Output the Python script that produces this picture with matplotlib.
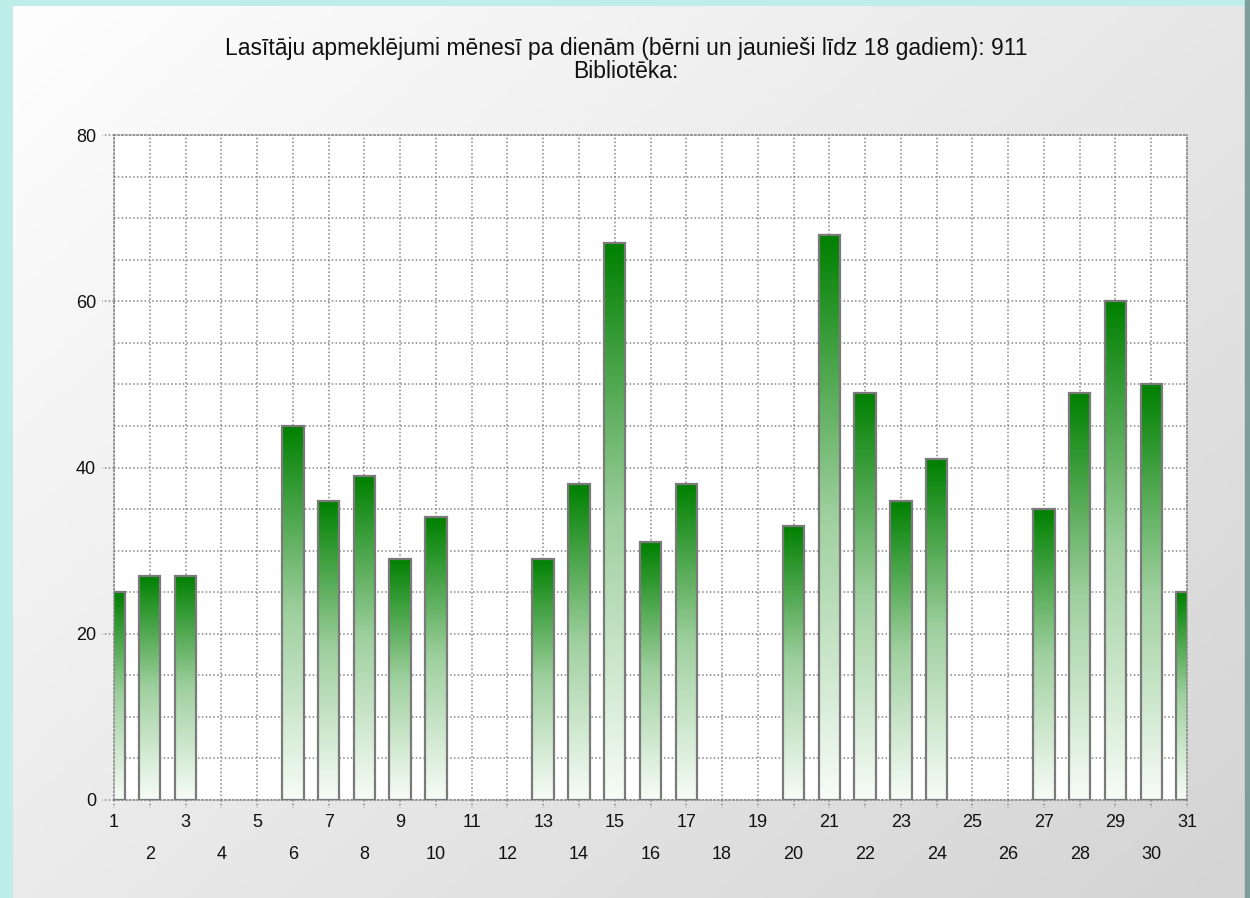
import numpy as np
import matplotlib.pyplot as plt
from matplotlib.colors import LinearSegmentedColormap
from matplotlib.ticker import MultipleLocator
import matplotlib.transforms as mtrans

# --- data: visits per day of month ---
days = list(range(1, 32))
visits = [25, 27, 27, 0, 0, 45, 36, 39, 29, 34, 0, 0, 29, 38, 67, 31, 38,
          0, 0, 33, 68, 49, 36, 41, 0, 0, 35, 49, 60, 50, 25]
title_lines = ["Lasītāju apmeklējumi mēnesī pa dienām (bērni un jaunieši līdz 18 gadiem): 911",
               "Bibliotēka:"]
y_ticks = [0, 20, 40, 60, 80]

plt.rcParams['font.family'] = ['Liberation Sans', 'DejaVu Sans']

GRID = '#858585'
DOTS = (0, (1, 1.5))

fig = plt.figure(figsize=(12.5, 8.98), dpi=100, facecolor='#bdeeea')

# panel background with diagonal grey gradient
bg = fig.add_axes([13 / 1250, 0, (1245 - 13) / 1250, 1 - 6 / 898])
bg.set_axis_off()
gx, gy = np.meshgrid(np.linspace(0, 1, 200), np.linspace(0, 1, 200))
g = (gx * 0.55 + gy * 0.45)
bg_cmap = LinearSegmentedColormap.from_list('bg', ['#fefefe', '#d4d4d4'])
bg.imshow(g, cmap=bg_cmap, aspect='auto', extent=[0, 1, 0, 1], origin='upper')
bg.set_xlim(0, 1)
bg.set_ylim(0, 1)
# darker right rim
fig.patches.append(plt.Rectangle((1245 / 1250, 0), 5 / 1250, 1, transform=fig.transFigure,
                                 color='#7e9e99', zorder=0))

ax = fig.add_axes([114 / 1250, 1 - 800 / 898, (1187 - 114) / 1250, (800 - 135) / 898])
ax.set_facecolor('white')
xmin, xmax = 1, 31

bar_cmap = LinearSegmentedColormap.from_list('bars', ['#f7fcf7', '#9fd09f', '#008000'])
grad = np.linspace(1, 0, 256).reshape(-1, 1)
width = 0.6
edges = ['#7a7a7a' if v > 0 else 'none' for v in visits]
bars = ax.bar(days, visits, width=width, facecolor='none', edgecolor=edges,
              linewidth=1.6, zorder=3)
for b, v in zip(bars, visits):
    if v <= 0:
        continue
    x0 = max(b.get_x(), xmin)
    x1 = min(b.get_x() + width, xmax)
    ax.imshow(grad, cmap=bar_cmap, aspect='auto', extent=[x0, x1, 0, v],
              zorder=2, vmin=0, vmax=1)

ax.set_xlim(xmin, xmax)
ax.set_ylim(0, 80)

# grid
ax.set_xticks(days[::2])
ax.set_xticks(days[1::2], minor=True)
ax.set_yticks(y_ticks)
ax.yaxis.set_minor_locator(MultipleLocator(5))
ax.grid(True, which='both', color=GRID, linestyle=DOTS, linewidth=1.1, zorder=1)
ax.set_axisbelow(True)
for s in ax.spines.values():
    s.set_color(GRID)
    s.set_linestyle(DOTS)
    s.set_linewidth(1.1)

# dotted tick marks drawn by hand
tx = mtrans.blended_transform_factory(ax.transData, ax.transAxes)
for d in days:
    ax.plot([d, d], [0, -8 / 665], transform=tx, color=GRID, linestyle=DOTS,
            linewidth=1.1, clip_on=False)
ty = mtrans.blended_transform_factory(ax.transAxes, ax.transData)
for t in y_ticks:
    ax.plot([0, -12 / 1073], [t, t], transform=ty, color=GRID, linestyle=DOTS,
            linewidth=1.1, clip_on=False)

ax.tick_params(axis='both', which='both', length=0, labelsize=13, labelcolor='#111111')
ax.tick_params(axis='x', which='major', pad=10)
ax.tick_params(axis='x', which='minor', pad=33)
ax.tick_params(axis='y', which='major', pad=13)
ax.set_xticklabels([str(d) for d in days[::2]])
ax.set_xticklabels([str(d) for d in days[1::2]], minor=True)

fig.text(0.501, 1 - 49 / 898, title_lines[0], ha='center', va='center', fontsize=16.5, color='#111111')
fig.text(0.501, 1 - 72 / 898, title_lines[1], ha='center', va='center', fontsize=16.5, color='#111111')

fig.savefig('out.png', dpi=100, facecolor=fig.get_facecolor())
